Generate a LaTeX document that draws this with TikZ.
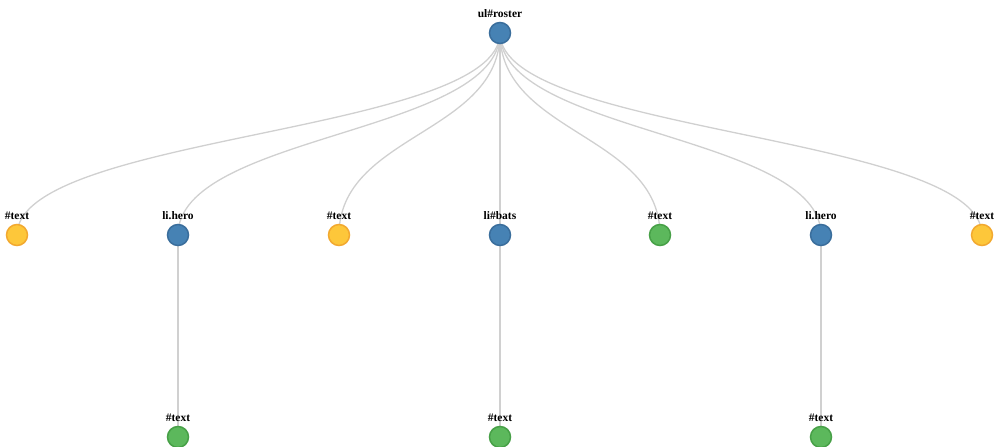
\documentclass[tikz,border=0pt]{standalone}
\usepackage{fontspec}
\setmainfont{Liberation Serif}
\usetikzlibrary{backgrounds}
\definecolor{bluefill}{HTML}{4682B4}
\definecolor{bluedraw}{HTML}{3A6E9C}
\definecolor{orfill}{HTML}{FDC73A}
\definecolor{ordraw}{HTML}{F2A930}
\definecolor{grfill}{HTML}{5CB85C}
\definecolor{grdraw}{HTML}{47A047}
\definecolor{linkc}{HTML}{D0D0D0}
\tikzset{
  dot/.style={circle, minimum size=21pt, inner sep=0pt, line width=1.5pt},
  elem/.style={dot, fill=bluefill, draw=bluedraw},
  txto/.style={dot, fill=orfill, draw=ordraw},
  txtg/.style={dot, fill=grfill, draw=grdraw},
  lbl/.style={anchor=base, inner sep=0pt, font=\fontsize{11.5}{12}\selectfont\bfseries},
  link/.style={draw=linkc, line width=1.3pt}
}
\begin{document}
\begin{tikzpicture}[x=1pt,y=-1pt]
\useasboundingbox (0,0) rectangle (996,447);
% nodes
\node[elem] (r) at (500,33) {};
\node[txto] (a) at (17,235) {};
\node[elem] (b) at (178,235) {};
\node[txto] (c) at (339,235) {};
\node[elem] (d) at (500,235) {};
\node[txtg] (e) at (660,235) {};
\node[elem] (f) at (821,235) {};
\node[txto] (g) at (982,235) {};
\node[txtg] (b1) at (178,437) {};
\node[txtg] (d1) at (500,437) {};
\node[txtg] (f1) at (821,437) {};
% labels
\node[lbl] (lr) at (500,17) {ul\#roster};
\node[lbl] (la) at (17,219) {\#text};
\node[lbl] (lb) at (178,219) {li.hero};
\node[lbl] (lc) at (339,219) {\#text};
\node[lbl] (ld) at (500,219) {li\#bats};
\node[lbl] (le) at (660,219) {\#text};
\node[lbl] (lf) at (821,219) {li.hero};
\node[lbl] (lg) at (982,219) {\#text};
\node[lbl] (lb1) at (178,421) {\#text};
\node[lbl] (ld1) at (500,421) {\#text};
\node[lbl] (lf1) at (821,421) {\#text};
\coordinate (mid) at (0,134);
\begin{pgfonlayer}{background}
\foreach \n in {a,b,c,d,e,f,g}{
  \draw[link] (r.center) .. controls (r.center |- mid) and (\n.center |- mid) .. (\n.center);
}
\draw[link] (b.center) -- (b1.center);
\draw[link] (d.center) -- (d1.center);
\draw[link] (f.center) -- (f1.center);
\end{pgfonlayer}
\end{tikzpicture}
\end{document}
